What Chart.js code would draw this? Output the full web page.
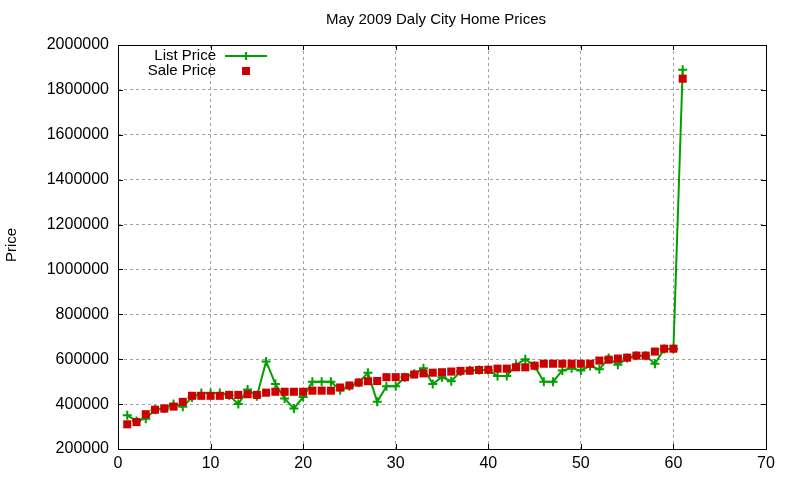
<!DOCTYPE html>
<html>
<head>
<meta charset="utf-8">
<title>May 2009 Daly City Home Prices</title>
<script src="https://cdn.jsdelivr.net/npm/chart.js@4/dist/chart.umd.min.js"></script>
<style>
  html, body { margin: 0; padding: 0; background: #fff; }
  #wrap { width: 800px; height: 480px; }
</style>
</head>
<body>
<div id="wrap"><canvas id="priceChart" width="800" height="480"></canvas></div>
<script>
// prix par maison, dans l'ordre de vente (maison 1 a 61)
const listPrice = [
  350000, 325000, 335000, 375000, 380000, 400000, 388000, 430000, 450000, 450000,
  450000, 440000, 400000, 465000, 435000, 590000, 490000, 425000, 380000, 432000,
  500000, 500000, 500000, 462000, 480000, 495000, 540000, 410000, 480000, 480000,
  520000, 535000, 560000, 490000, 520000, 502000, 545000, 550000, 552000, 552000,
  525000, 525000, 575000, 600000, 570000, 500000, 500000, 550000, 560000, 550000,
  570000, 555000, 605000, 575000, 605000, 615000, 615000, 580000, 645000, 645000,
  1890000
];
const salePrice = [
  310000, 320000, 355000, 375000, 380000, 389000, 410000, 437000, 437000, 437000,
  437000, 441000, 441000, 444000, 441000, 451000, 455000, 455000, 455000, 455000,
  460000, 460000, 460000, 474000, 483000, 496000, 502000, 503000, 520000, 520000,
  520000, 532000, 537000, 540000, 542000, 545000, 548000, 549000, 552000, 553000,
  558000, 558000, 564000, 564000, 571000, 580000, 580000, 580000, 580000, 580000,
  580000, 594000, 598000, 603000, 607000, 616000, 616000, 634000, 647000, 647000,
  1850000
];
const xTicks = [0, 10, 20, 30, 40, 50, 60, 70];
const yTicks = [200000, 400000, 600000, 800000, 1000000, 1200000, 1400000, 1600000, 1800000, 2000000];

const GREEN = '#00a000';
const RED = '#cc0000';
const FONT = '"Liberation Sans", Arial, sans-serif';

const toPoints = arr => arr.map((v, i) => ({ x: i + 1, y: v }));

// cadre, petites graduations interieures, titre, legende et nom de l'axe
const gnuplotLook = {
  id: 'gnuplotLook',
  afterDraw(chart) {
    const { ctx, chartArea: a, scales } = chart;
    ctx.save();
    ctx.strokeStyle = '#000';
    ctx.lineWidth = 1;
    ctx.beginPath();
    xTicks.forEach(t => {
      const px = Math.round(scales.x.getPixelForValue(t)) + 0.5;
      ctx.moveTo(px, a.bottom); ctx.lineTo(px, a.bottom - 5);
      ctx.moveTo(px, a.top); ctx.lineTo(px, a.top + 5);
    });
    yTicks.forEach(t => {
      const py = Math.round(scales.y.getPixelForValue(t)) + 0.5;
      ctx.moveTo(a.left, py); ctx.lineTo(a.left + 5, py);
      ctx.moveTo(a.right, py); ctx.lineTo(a.right - 5, py);
    });
    ctx.stroke();
    ctx.strokeRect(Math.round(a.left) + 0.5, Math.round(a.top) + 0.5,
      Math.round(a.right - a.left), Math.round(a.bottom - a.top));

    ctx.fillStyle = '#000';
    ctx.font = '15px ' + FONT;
    ctx.textAlign = 'center';
    ctx.textBaseline = 'middle';
    ctx.fillText('May 2009 Daly City Home Prices', 436, 20);

    ctx.save();
    ctx.translate(12, 245);
    ctx.rotate(-Math.PI / 2);
    ctx.fillText('Price', 0, 0);
    ctx.restore();

    // legende
    ctx.textAlign = 'right';
    ctx.fillText('List Price', 216, 56);
    ctx.fillText('Sale Price', 216, 71);
    ctx.strokeStyle = GREEN;
    ctx.lineWidth = 2;
    ctx.beginPath();
    ctx.moveTo(225, 56); ctx.lineTo(267, 56);
    ctx.moveTo(246, 52); ctx.lineTo(246, 60);
    ctx.stroke();
    ctx.fillStyle = RED;
    ctx.fillRect(242, 67, 8, 8);
    ctx.restore();
  }
};

new Chart(document.getElementById('priceChart'), {
  type: 'scatter',
  data: {
    datasets: [
      {
        label: 'List Price',
        data: toPoints(listPrice),
        showLine: true,
        borderColor: GREEN,
        backgroundColor: GREEN,
        borderWidth: 2,
        pointStyle: 'cross',
        pointRadius: 4.5,
        pointBorderWidth: 2,
        order: 1
      },
      {
        label: 'Sale Price',
        data: toPoints(salePrice),
        showLine: false,
        borderColor: RED,
        backgroundColor: RED,
        pointStyle: 'rect',
        pointRadius: 5.7,
        pointBorderWidth: 0,
        order: 0
      }
    ]
  },
  options: {
    responsive: false,
    animation: false,
    layout: { padding: { top: 45, right: 34, left: 0, bottom: 0 } },
    plugins: {
      legend: { display: false },
      tooltip: { enabled: false }
    },
    scales: {
      x: {
        type: 'linear',
        min: 0,
        max: 70,
        afterFit: s => { s.height = 31; },
        afterBuildTicks: s => { s.ticks = xTicks.map(v => ({ value: v })); },
        ticks: { color: '#000', padding: 5, font: { family: FONT, size: 16 }, maxRotation: 0 },
        grid: {
          color: c => (c.tick && (c.tick.value === 0 || c.tick.value === 70)) ? 'rgba(0,0,0,0)' : '#a0a0a0',
          lineWidth: 1,
          drawTicks: false
        },
        border: { display: false, dash: [3, 3] }
      },
      y: {
        min: 200000,
        max: 2000000,
        afterFit: s => { s.width = 118; },
        afterBuildTicks: s => { s.ticks = yTicks.map(v => ({ value: v })); },
        ticks: {
          color: '#000',
          padding: 9,
          font: { family: FONT, size: 16 },
          callback: v => String(v)
        },
        grid: {
          color: c => (c.tick && (c.tick.value === 200000 || c.tick.value === 2000000)) ? 'rgba(0,0,0,0)' : '#a0a0a0',
          lineWidth: 1,
          drawTicks: false
        },
        border: { display: false, dash: [3, 3] }
      }
    }
  },
  plugins: [gnuplotLook]
});
</script>
</body>
</html>
